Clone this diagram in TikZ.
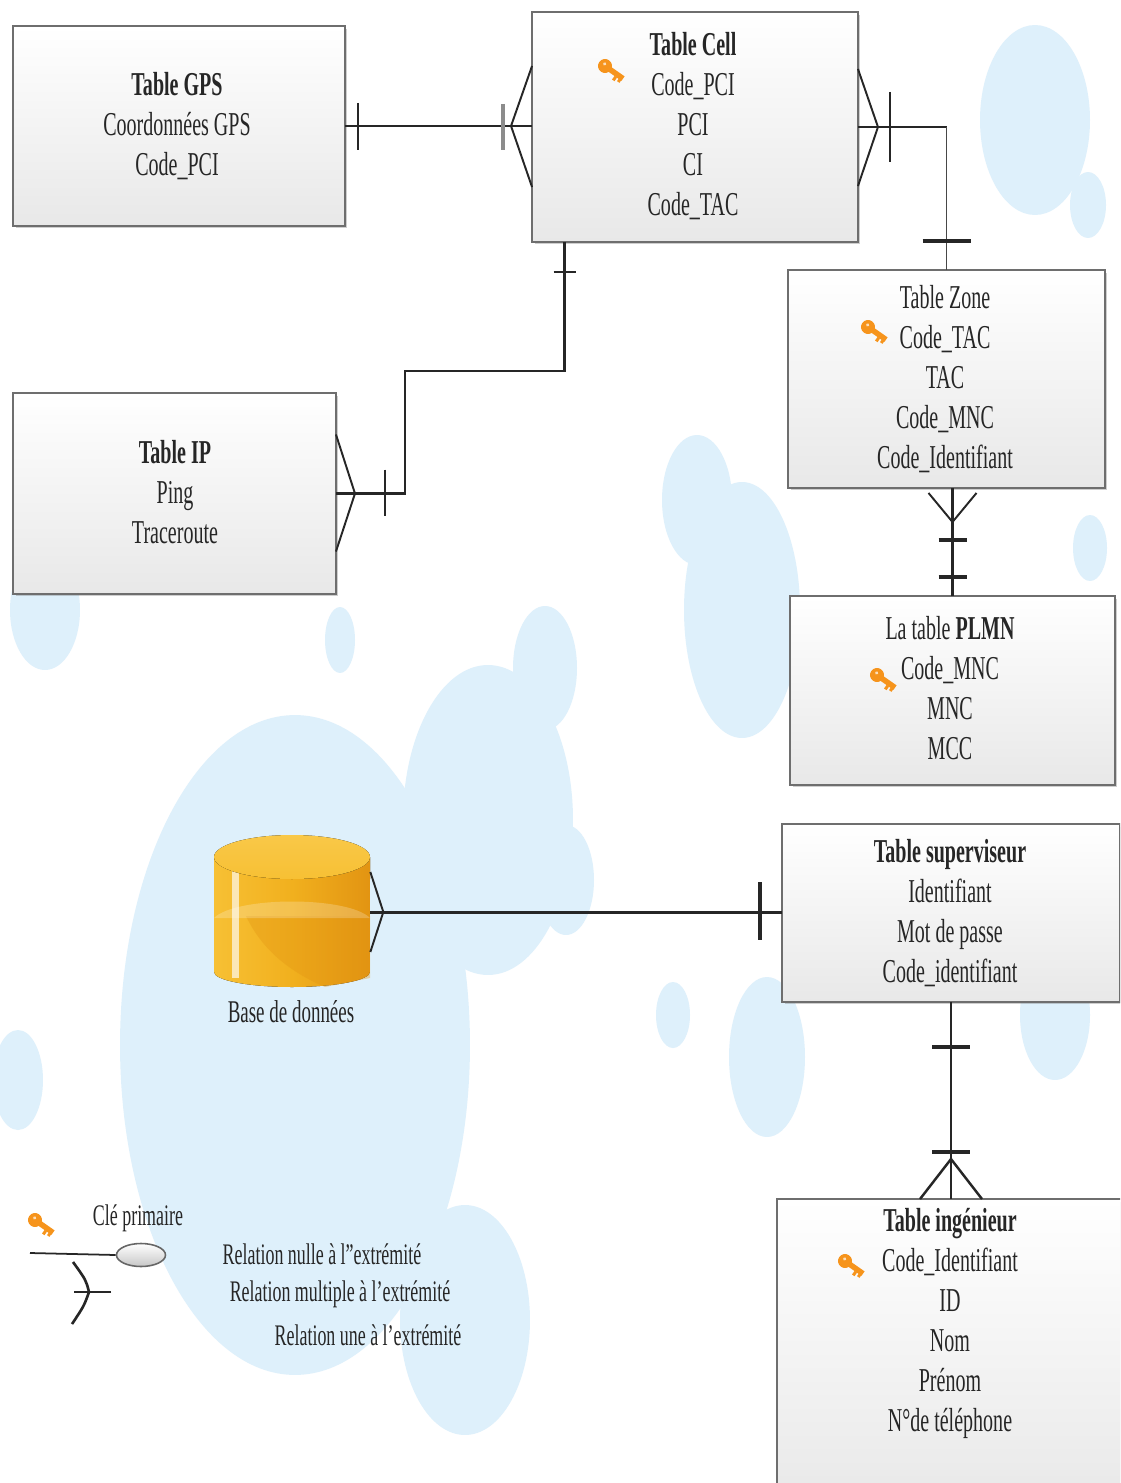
\documentclass[tikz,border=0pt]{standalone}
\usepackage{fontspec}
\setmainfont[FakeStretch=0.6]{Liberation Serif}
\usetikzlibrary{calc,shapes.geometric,shadows}

\definecolor{bubble}{RGB}{222,240,251}
\definecolor{edge}{RGB}{110,110,110}
\definecolor{ink}{RGB}{38,38,38}
\definecolor{keyc}{RGB}{246,148,28}
\definecolor{goldA}{RGB}{247,192,52}
\definecolor{goldB}{RGB}{241,176,30}
\definecolor{goldC}{RGB}{226,148,18}
\definecolor{goldTop}{RGB}{249,200,72}

\tikzset{
  tbl/.style={draw=edge, line width=1.3pt, top color=white, bottom color=black!9,
    inner sep=0pt, outer sep=0pt,
    drop shadow={shadow xshift=0.05cm, shadow yshift=-0.05cm, opacity=0.35, fill=black!55}},
  rows/.style={align=center, font=\fontsize{19}{22.76}\selectfont, text=ink, inner sep=0pt},
  lbl/.style={font=\fontsize{17}{20}\selectfont, text=ink, inner sep=0pt},
  rel/.style={draw=ink, line width=1.7pt},
  relthin/.style={draw=ink!85, line width=1.1pt},
  onemark/.style={draw=ink, line width=1.3pt},
  onethick/.style={draw=ink, line width=2pt},
  crow/.style={draw=ink, line width=1.1pt},
  bub/.style={fill=bubble, draw=none},
  keyicon/.pic={
    \begin{scope}[rotate=-35]
      \fill[keyc] (0,0) circle [radius=0.14cm];
      \fill[keyc] (0.06cm,-0.055cm) rectangle (0.44cm,0.055cm);
      \fill[keyc] (0.27cm,-0.05cm) rectangle (0.33cm,-0.14cm);
      \fill[keyc] (0.37cm,-0.05cm) rectangle (0.43cm,-0.11cm);
      \fill[white,opacity=0.7] (-0.03cm,0.03cm) circle [radius=0.035cm];
    \end{scope}
  }
}

\begin{document}
\begin{tikzpicture}[x=0.02cm, y=-0.02cm]
  \path[use as bounding box] (0,0) rectangle (1120,1483);
  \clip (0,0) rectangle (1120,1483);
  \fill[white] (0,0) rectangle (1120,1483);

  % soft blue bubbles in the background
  \fill[bub] (295,1045) ellipse [x radius=3.5cm, y radius=6.6cm];
  \fill[bub] (488,820) ellipse [x radius=1.7cm, y radius=3.1cm];
  \fill[bub] (1035,120) ellipse [x radius=1.1cm, y radius=1.9cm];
  \fill[bub] (1088,205) ellipse [x radius=0.36cm, y radius=0.66cm];
  \fill[bub] (697,500) ellipse [x radius=0.7cm, y radius=1.3cm];
  \fill[bub] (742,610) ellipse [x radius=1.16cm, y radius=2.56cm];
  \fill[bub] (545,668) ellipse [x radius=0.64cm, y radius=1.24cm];
  \fill[bub] (340,640) ellipse [x radius=0.3cm, y radius=0.66cm];
  \fill[bub] (45,610) ellipse [x radius=0.7cm, y radius=1.2cm];
  \fill[bub] (1090,548) ellipse [x radius=0.34cm, y radius=0.66cm];
  \fill[bub] (767,1057) ellipse [x radius=0.76cm, y radius=1.6cm];
  \fill[bub] (1055,1015) ellipse [x radius=0.7cm, y radius=1.3cm];
  \fill[bub] (673,1015) ellipse [x radius=0.34cm, y radius=0.66cm];
  \fill[bub] (566,880) ellipse [x radius=0.56cm, y radius=1.1cm];
  \fill[bub] (18,1080) ellipse [x radius=0.5cm, y radius=1.0cm];
  \fill[bub] (465,1320) ellipse [x radius=1.3cm, y radius=2.3cm];

  % tables
  \node[tbl, minimum width=6.64cm, minimum height=4cm]    (gps)  at (179,126)     {};
  \node[tbl, minimum width=6.52cm, minimum height=4.6cm]  (cell) at (695,127)     {};
  \node[tbl, minimum width=6.46cm, minimum height=4.02cm] (ip)   at (174.5,493.5) {};
  \node[tbl, minimum width=6.34cm, minimum height=4.36cm] (zone) at (946.5,379)   {};
  \node[tbl, minimum width=6.5cm,  minimum height=3.78cm] (plmn) at (952.5,690.5) {};
  \node[tbl, minimum width=6.76cm, minimum height=3.56cm] (sup)  at (951,913)     {};
  \node[tbl, minimum width=6.96cm, minimum height=6.2cm]  (ing)  at (951,1354)    {};

  \node[rows] (gpsrows)  at (177,126)   {\textbf{Table GPS}\\Coordonnées GPS\\Code\_PCI};
  \node[rows] (cellrows) at (693,126.5) {\textbf{Table Cell}\\Code\_PCI\\PCI\\CI\\Code\_TAC};
  \node[rows] (iprows)   at (175,492)   {\textbf{Table IP}\\Ping\\Traceroute};
  \node[rows] (zonerows) at (945,379)   {Table Zone\\Code\_TAC\\TAC\\Code\_MNC\\Code\_Identifiant};
  \node[rows] (plmnrows) at (950,688.5) {La table \textbf{PLMN}\\Code\_MNC\\MNC\\MCC};
  \node[rows] (suprows)  at (950,913)   {\textbf{Table superviseur}\\Identifiant\\Mot de passe\\Code\_identifiant};
  \node[rows] (ingrows)  at (950,1323.5) {\textbf{Table ingénieur}\\Code\_Identifiant\\ID\\Nom\\Prénom\\N°de téléphone};

  % primary key markers
  \pic (kcell) at (605,66)   {keyicon};
  \pic (kzone) at (868,327)  {keyicon};
  \pic (kplmn) at (877,675)  {keyicon};
  \pic (king)  at (845,1261) {keyicon};

  % database cylinder
  \node[minimum width=3.12cm, minimum height=3.04cm, inner sep=0pt] (db) at (292,912) {};
  \fill[left color=goldA, right color=goldC, middle color=goldB]
    (214,857) -- (214,972) arc[start angle=180, end angle=360, x radius=1.56cm, y radius=0.3cm]
    -- (370,857) -- cycle;
  \fill[goldC, opacity=0.35]
    (246,916) .. controls (262,950) and (290,972) .. (325,987) -- (370,978) -- (370,916) -- cycle;
  \fill[white, opacity=0.22]
    (214,918) .. controls (236,896) and (348,896) .. (370,918) -- cycle;
  \fill[white, opacity=0.65] (232,868) rectangle (239,978);
  \fill[top color=goldTop, bottom color=goldA] (292,857) ellipse [x radius=1.56cm, y radius=0.44cm];
  \node[lbl, font=\fontsize{18}{20}\selectfont] (dblabel) at (291,1012) {Base de données};

  % relationship lines
  \draw[rel] (gps.east) -- (gps.east -| cell.west);
  \draw[rel] (cell.east) -- (cell.east -| zone.north);
  \draw[relthin] (cell.east -| zone.north) -- (zone.north);
  \coordinate (cellip) at ($(cell.south west)!0.1!(cell.south east)$);
  \coordinate (ipelbow) at (405,371);
  \draw[rel, line width=1.5pt] (cellip) |- (ipelbow) |- (ip.east);
  \draw[rel, line width=1.4pt] (zone.south -| plmn.north) -- (plmn.north);
  \draw[rel] (db.east) -- (db.east -| sup.west);
  \draw[rel, line width=1.4pt] (sup.south) -- (ing.north);

  % cardinality marks: GPS -- Cell
  \draw[onemark] ($(gps.east)+(13,-23)$) -- ++(0,47);
  \draw[draw=black!45, line width=2.4pt] ($(gps.east -| cell.west)+(-29,-22)$) -- ++(0,46);
  \draw[crow] ($(gps.east -| cell.west)+(0,-60)$) -- ($(gps.east -| cell.west)+(-21,0)$)
              -- ($(gps.east -| cell.west)+(0,61)$);

  % Cell -- Zone
  \draw[crow] ($(cell.east)+(0,-58)$) -- ($(cell.east)+(20,0)$) -- ($(cell.east)+(0,59)$);
  \draw[onemark] ($(cell.east)+(32,-35)$) -- ++(0,70);
  \draw[onethick] ($(zone.north)+(-24,-29)$) -- ++(48,0);

  % Cell -- IP
  \draw[onemark] ($(cellip)+(-11,30)$) -- ++(22,0);
  \draw[crow] ($(ip.east)+(0,-59)$) -- ($(ip.east)+(19,0)$) -- ($(ip.east)+(0,58)$);
  \draw[onemark] ($(ip.east)+(49,-24)$) -- ++(0,46);

  % Zone -- PLMN
  \draw[crow] ($(zone.south -| plmn.north)+(-24,5)$) -- ($(zone.south -| plmn.north)+(0,34)$)
              -- ($(zone.south -| plmn.north)+(24,5)$);
  \draw[onethick] ($(zone.south -| plmn.north)+(-14,52)$) -- ++(28,0);
  \draw[onethick] ($(zone.south -| plmn.north)+(-14,89)$) -- ++(28,0);

  % Database -- Superviseur
  \draw[crow] ($(db.east)+(0,-40)$) -- ($(db.east)+(13,0)$) -- ($(db.east)+(0,40)$);
  \draw[onethick] ($(db.east -| sup.west)+(-22,-30)$) -- ++(0,58);

  % Superviseur -- Ingenieur
  \draw[onethick] ($(sup.south)+(-19,45)$) -- ++(38,0);
  \draw[onethick] ($(ing.north)+(-19,-47)$) -- ++(38,0);
  \draw[crow, line width=1.4pt] ($(ing.north)+(-31,0)$) -- ($(ing.north)+(0,-40)$) -- ($(ing.north)+(31,0)$);

  % legend
  \pic (klegend) at (35,1220) {keyicon};
  \node[lbl] (lgpk) at (138,1218) {Clé primaire};
  \node[ellipse, draw=black!60, line width=0.9pt, top color=white, bottom color=black!22,
        minimum width=0.98cm, minimum height=0.46cm, inner sep=0pt] (lgoval) at (141,1255) {};
  \coordinate (lgstart) at (30,1253);
  \draw[draw=ink, line width=1pt] (lgstart) -- (lgoval.west);
  \coordinate (lgfoot) at (111,1292);
  \draw[rel, line width=1.5pt] (lgfoot) -- ++(-37,0);
  \draw[crow, line width=1.5pt] ($(lgfoot)+(-38,-30)$) .. controls ($(lgfoot)+(-25,-12)$) .. ($(lgfoot)+(-22,0)$)
        .. controls ($(lgfoot)+(-27,14)$) .. ($(lgfoot)+(-39,32)$);
  \node[lbl] (lgnull) at (322,1254) {Relation nulle à l"extrémité};
  \node[lbl] (lgmany) at (340,1294) {Relation multiple à l'extrémité};
  \node[lbl] (lgone)  at (368,1335) {Relation une à l'extrémité};
\end{tikzpicture}
\end{document}
